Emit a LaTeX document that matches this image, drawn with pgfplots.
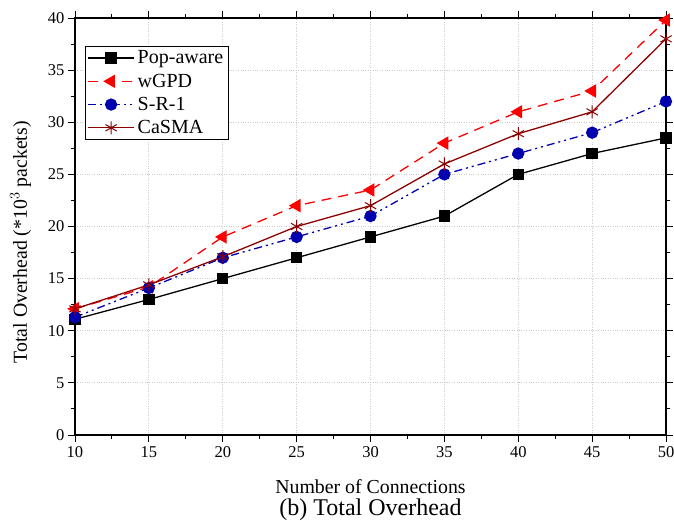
\documentclass[border=0pt]{standalone}
\usepackage{pgfplots}
\pgfplotsset{compat=1.18}
\usetikzlibrary{calc}
\usepackage{fontspec}
\setmainfont{Liberation Serif}
\definecolor{srblue}{RGB}{0,0,175}
\definecolor{cdred}{RGB}{140,0,0}
\begin{document}
\begin{tikzpicture}
\begin{axis}[
  name=main,
  scale only axis,
  width=591pt, height=417pt,
  xmin=10, xmax=50, ymin=0, ymax=40,
  xtick={10,15,...,50}, ytick={0,5,...,40},
  minor x tick num=1, minor y tick num=1,
  tick align=outside,
  major tick length=7pt, minor tick length=4pt,
  tick style={black, line width=0.9pt},
  axis line style={line width=1.1pt},
  grid=major,
  major grid style={gray!40, dotted, line width=1pt},
  /pgf/number format/assume math mode=true,
  tick label style={font=\fontsize{16.5}{18}\selectfont},
  xticklabel style={yshift=-1pt},
  xlabel={Number of Connections},
  ylabel={Total Overhead (*10$^3$ packets)},
  label style={font=\fontsize{19.8}{23}\selectfont},
  xlabel style={yshift=-15pt},
  ylabel style={at={(ticklabel cs:0.462)}, yshift=10pt},
  legend style={at={(rel axis cs:0.017,0.933)}, anchor=north west,
    font=\fontsize{20}{23}\selectfont, draw=black, line width=0.8pt,
    inner sep=2pt, row sep=3.5pt,
    nodes={inner ysep=2.5pt, inner xsep=3pt}},
  legend cell align=left,
  legend image code/.code={
    \draw[mark repeat=2,mark phase=2] plot coordinates {(0pt,0pt) (23pt,0pt) (46pt,0pt)};
  },
]
\addplot[black, line width=1.3pt, mark=square*, mark size=5pt, mark options={solid}]
 coordinates {(10,11.1) (15,13) (20,15) (25,17) (30,19) (35,21) (40,25) (45,27) (50,28.5)};
\addlegendentry{Pop-aware}
\addplot[red, line width=1.3pt, dash pattern=on 10pt off 7pt, mark=triangle*, mark size=6.5pt, mark options={solid, rotate=90}]
 coordinates {(10,12.1) (15,14.2) (20,19) (25,22) (30,23.5) (35,28) (40,31) (45,33) (50,39.8)};
\addlegendentry{wGPD}
\addplot[srblue, line width=1.3pt, dash pattern=on 8pt off 4pt on 2pt off 4pt on 2pt off 4pt, mark=*, mark size=5.5pt, mark options={solid}]
 coordinates {(10,11.3) (15,14.1) (20,17) (25,19) (30,21) (35,25) (40,27) (45,29) (50,32)};
\addlegendentry{S-R-1}
\addplot[cdred, line width=1.3pt, mark=asterisk, mark size=6.5pt, mark options={solid, line width=1pt}]
 coordinates {(10,12.1) (15,14.4) (20,17.1) (25,20) (30,22) (35,26) (40,28.9) (45,31) (50,38)};
\addlegendentry{CaSMA}
\end{axis}
\node[font=\fontsize{24}{27}\selectfont, anchor=center] at ($(main.south)+(0,-75pt)$) {(b) Total Overhead};
\pgfresetboundingbox
\useasboundingbox ($(main.south west)+(-75pt,-85pt)$) rectangle ($(main.north east)+(8pt,18pt)$);
\end{tikzpicture}
\end{document}
